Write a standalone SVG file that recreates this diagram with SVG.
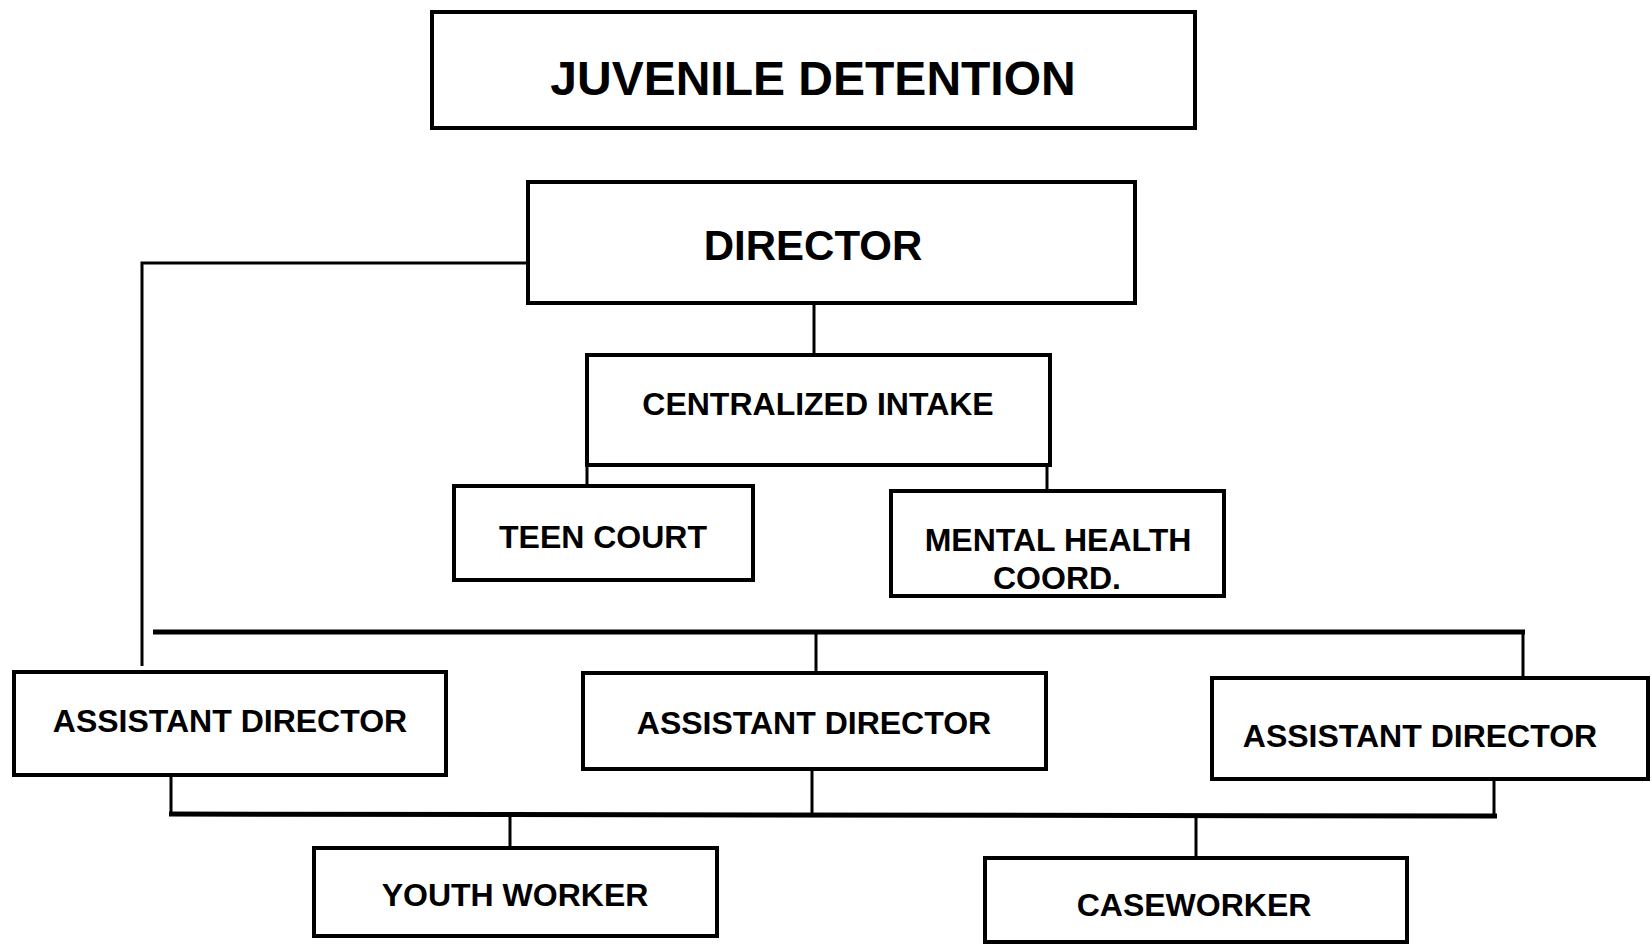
<svg xmlns="http://www.w3.org/2000/svg" width="1652" height="944" viewBox="0 0 1652 944">
<style>
.box{fill:#fff;stroke:#000;stroke-width:4}
.t{font-family:"Liberation Sans",Arial,sans-serif;font-weight:bold;fill:#000;text-anchor:middle}
.c{fill:none;stroke:#000;stroke-width:3}
.bus{fill:none;stroke:#000;stroke-width:5}
</style>
<rect width="1652" height="944" fill="#fff"/>
<g id="connectors">
<polyline class="c" points="527,263 142,263 142,666"/>
<line class="c" x1="814" y1="304" x2="814" y2="354"/>
<line class="c" x1="587" y1="465" x2="587" y2="485"/>
<line class="c" x1="1047" y1="465" x2="1047" y2="490"/>
<line class="bus" x1="153" y1="632" x2="1525" y2="632"/>
<line class="c" x1="816" y1="632" x2="816" y2="672"/>
<line class="c" x1="1523" y1="632" x2="1523" y2="677"/>
<line class="c" x1="171" y1="775" x2="171" y2="815"/>
<line class="c" x1="812" y1="769" x2="812" y2="815"/>
<line class="c" x1="1494" y1="779" x2="1494" y2="815"/>
<line class="bus" x1="169" y1="814" x2="1497" y2="816"/>
<line class="c" x1="510" y1="815" x2="510" y2="848"/>
<line class="c" x1="1196" y1="816" x2="1196" y2="857"/>
</g>
<g id="juvenile-detention">
<rect class="box" x="432" y="12" width="763" height="116"/>
<text class="t" x="813" y="95" font-size="48">JUVENILE DETENTION</text>
</g>
<g id="director">
<rect class="box" x="528" y="182" width="607" height="121"/>
<text class="t" x="813" y="260" font-size="42">DIRECTOR</text>
</g>
<g id="centralized-intake">
<rect class="box" x="587" y="355" width="463" height="110"/>
<text class="t" x="818" y="415" font-size="32">CENTRALIZED INTAKE</text>
</g>
<g id="teen-court">
<rect class="box" x="454" y="486" width="299" height="94"/>
<text class="t" x="603" y="548" font-size="32">TEEN COURT</text>
</g>
<g id="mental-health">
<rect class="box" x="891" y="491" width="333" height="105"/>
<text class="t" x="1058" y="551" font-size="32">MENTAL HEALTH</text>
<text class="t" x="1057" y="589" font-size="32">COORD.</text>
</g>
<g id="assistant-director-1">
<rect class="box" x="14" y="672" width="432" height="103"/>
<text class="t" x="230" y="732" font-size="32">ASSISTANT DIRECTOR</text>
</g>
<g id="assistant-director-2">
<rect class="box" x="583" y="673" width="463" height="96"/>
<text class="t" x="814" y="734" font-size="32">ASSISTANT DIRECTOR</text>
</g>
<g id="assistant-director-3">
<rect class="box" x="1212" y="678" width="436" height="101"/>
<text class="t" x="1420" y="747" font-size="32">ASSISTANT DIRECTOR</text>
</g>
<g id="youth-worker">
<rect class="box" x="314" y="848" width="403" height="88"/>
<text class="t" x="515" y="906" font-size="32">YOUTH WORKER</text>
</g>
<g id="caseworker">
<rect class="box" x="985" y="858" width="422" height="84"/>
<text class="t" x="1194" y="916" font-size="32">CASEWORKER</text>
</g>
</svg>
